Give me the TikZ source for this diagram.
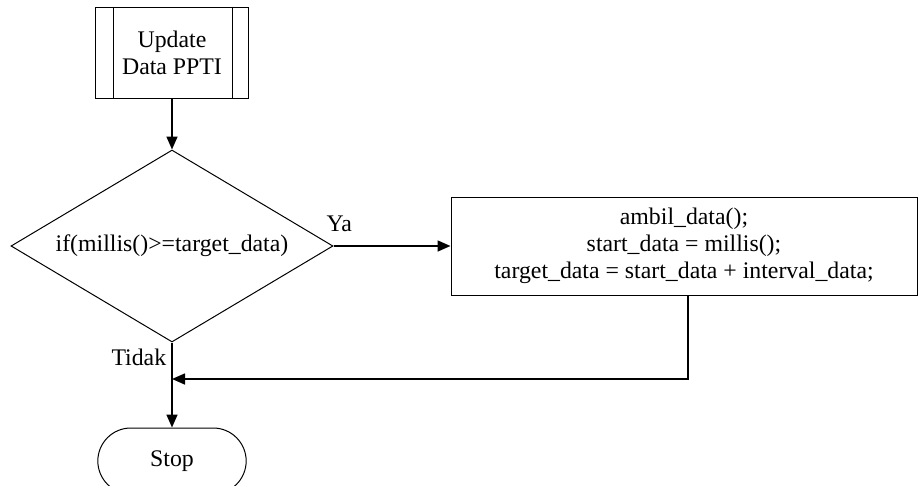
\documentclass[tikz,border=0pt]{standalone}
\usepackage{fontspec}
\setmainfont{Liberation Serif}
\usetikzlibrary{calc, shapes.geometric, shapes.misc, arrows.meta}

\tikzset{
  box/.style={draw, line width=1pt, align=center},
  flowarrow/.style={line width=1.6pt, -{Triangle[length=13pt,width=11pt]}},
}

\begin{document}
\begin{tikzpicture}[x=1pt, y=-1pt, font=\fontsize{23.8}{27}\selectfont]

\useasboundingbox (0,0) rectangle (918,485);

\coordinate (M) at (172,379);

% Subrutin
\node [box, minimum width=153pt, minimum height=91pt] (sub) at (172,52.5) {Update\\Data PPTI};
\draw [line width=1pt] ($(sub.north west)+(18,0)$) -- ($(sub.south west)+(18,0)$);
\draw [line width=1pt] ($(sub.north east)+(-17,0)$) -- ($(sub.south east)+(-17,0)$);

% Keputusan
\node [box, diamond, aspect=1.68, inner sep=0pt, minimum width=322pt, minimum height=192pt] (dec) at (172,246) {if(millis()>=target\_data)};

% Proses
\node [box, minimum width=466pt, minimum height=98pt] (proc) at (684,246)
      {ambil\_data();\\start\_data = millis();\\target\_data = start\_data + interval\_data;};

% Terminal
\node [box, rounded rectangle, minimum width=155pt, minimum height=66pt] (stop) at (172,461) {Stop};

\draw [flowarrow] (sub.south) -- (dec.north);
\draw [flowarrow] (dec.east) -- node [pos=0.05, above=10pt] (ya) {Ya} (proc.west);
\draw [flowarrow] ([xshift=4pt]proc.south) |- (M);
\draw [flowarrow] (dec.south) -- node [pos=0.17, left, inner sep=5pt] (tidak) {Tidak} (stop.north);

\end{tikzpicture}
\end{document}
